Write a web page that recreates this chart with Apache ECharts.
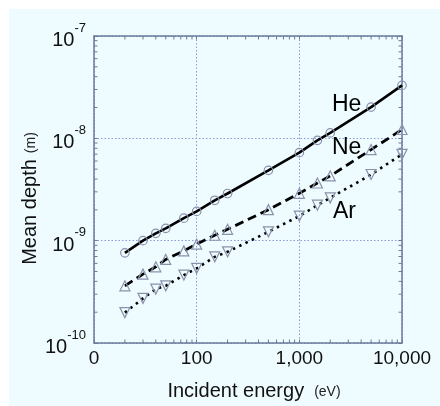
<!DOCTYPE html>
<html>
<head>
<meta charset="utf-8">
<script src="https://cdn.jsdelivr.net/npm/echarts@6/dist/echarts.min.js"></script>
<style>
  html, body { margin: 0; padding: 0; background: #ffffff; }
  #wrap { position: relative; width: 440px; height: 406px; background: #ffffff; }
  #panel { position: absolute; left: 9px; top: 9px; right: 0; bottom: 0; background: #effcff; }
  #chart { position: absolute; left: 0; top: 0; width: 440px; height: 406px; }
</style>
</head>
<body>
<div id="wrap"><div id="panel"></div><div id="chart"></div></div>
<script>
// Incident energy (eV)
const energies = [20, 30, 40, 50, 75, 100, 150, 200, 500, 1000, 1500, 2000, 5000, 10000];
// Mean depth (m) per projectile
const depthHe = [7.6e-10, 1.0e-9, 1.18e-9, 1.32e-9, 1.66e-9, 1.93e-9, 2.48e-9, 2.89e-9, 4.87e-9, 7.25e-9, 9.56e-9, 1.13e-8, 2.02e-8, 3.29e-8];
const depthNe = [3.62e-10, 4.71e-10, 5.55e-10, 6.56e-10, 7.95e-10, 9.25e-10, 1.13e-9, 1.29e-9, 2.01e-9, 2.9e-9, 3.66e-9, 4.29e-9, 7.76e-9, 1.22e-8];
const depthAr = [1.98e-10, 2.73e-10, 3.36e-10, 3.62e-10, 4.61e-10, 5.36e-10, 6.95e-10, 7.78e-10, 1.22e-9, 1.74e-9, 2.22e-9, 2.62e-9, 4.43e-9, 6.98e-9];

// Axis ranges and tick labels
const xRange = [10, 10000];
const yRange = [1e-10, 1e-7];
const xTickLabels = { 10: '0', 100: '100', 1000: '1,000', 10000: '10,000' };
const seriesNames = ['He', 'Ne', 'Ar'];

// Minor tick positions (2..9 within each decade)
function decadeSteps(lo, hi) {
  const out = [];
  for (let d = lo; d < hi; d *= 10) {
    for (let k = 2; k <= 9; k++) out.push(+(k * d).toPrecision(3));
  }
  return out;
}
const minorX = decadeSteps(xRange[0], xRange[1]);
const minorY = decadeSteps(yRange[0], yRange[1]);

const FONT = '"Liberation Sans", Arial, Helvetica, sans-serif';
const AXIS_COLOR = '#6c7a9a';
const GRID_COLOR = '#8a9ad6';
const MARK_COLOR = '#8a91ab';
const TICK_LEN = 3.5;

function pairs(xs, ys) { return xs.map((x, i) => [x, ys[i]]); }

function frameAxis(extra) {
  return Object.assign({
    type: 'log',
    logBase: 10,
    axisLine: { show: true, onZero: false, lineStyle: { color: AXIS_COLOR, width: 1.5 } },
    axisTick: { show: true, inside: true, length: TICK_LEN, lineStyle: { color: AXIS_COLOR, width: 1 } },
    splitLine: { show: false },
    axisLabel: { show: false }
  }, extra);
}

const chart = echarts.init(document.getElementById('chart'), null, { renderer: 'canvas' });

const option = {
  backgroundColor: 'transparent',
  animation: false,
  textStyle: { fontFamily: FONT },
  grid: { left: 94, right: 38, top: 36, bottom: 63, containLabel: false },
  xAxis: [
    frameAxis({
      position: 'bottom', min: xRange[0], max: xRange[1],
      splitLine: { show: true, lineStyle: { color: GRID_COLOR, type: [1.5, 2], width: 1 } },
      axisLabel: {
        show: true, margin: 6, color: '#111', fontSize: 19, fontFamily: FONT,
        formatter: v => xTickLabels[Math.round(v)] || ''
      },
      name: '{a|Incident energy}{g| }{b|(eV)}',
      nameLocation: 'middle', nameGap: 38, nameMoveOverlap: false,
      nameTextStyle: {
        color: '#111', fontFamily: FONT, padding: [0, 0, 0, 12],
        rich: {
          a: { fontSize: 20, fontFamily: FONT, color: '#111' },
          g: { fontSize: 8, width: 10 },
          b: { fontSize: 14, fontFamily: FONT, color: '#222', padding: [3, 0, 0, 0] }
        }
      }
    }),
    frameAxis({ position: 'top', min: xRange[0], max: xRange[1] })
  ],
  yAxis: [
    frameAxis({
      position: 'left', min: yRange[0], max: yRange[1],
      splitLine: { show: true, lineStyle: { color: GRID_COLOR, type: [1.5, 2], width: 1 } },
      axisLabel: {
        show: true, margin: 8, color: '#111', fontFamily: FONT,
        formatter: v => '{b|10}{s|' + Math.round(Math.log10(v)) + '}',
        rich: {
          b: { fontSize: 20, fontFamily: FONT, color: '#111', verticalAlign: 'bottom' },
          s: { fontSize: 13, fontFamily: FONT, color: '#111', verticalAlign: 'bottom', padding: [0, 0, 16, 0] }
        }
      },
      name: '{a|Mean depth}{g| }{b|(m)}',
      nameLocation: 'middle', nameGap: 54, nameRotate: 90, nameMoveOverlap: false,
      nameTextStyle: {
        color: '#111', fontFamily: FONT, padding: [0, 18, 0, 0],
        rich: {
          a: { fontSize: 20, fontFamily: FONT, color: '#111' },
          g: { fontSize: 8, width: 6 },
          b: { fontSize: 14, fontFamily: FONT, color: '#222', padding: [3, 0, 0, 0] }
        }
      }
    }),
    frameAxis({ position: 'right', min: yRange[0], max: yRange[1] })
  ],
  series: [
    {
      // minor ticks along bottom and top edges
      type: 'custom', xAxisIndex: 0, yAxisIndex: 0, silent: true, clip: false, z: 3,
      data: minorX.map(x => [x, yRange[0]]),
      renderItem: (params, api) => {
        const x = api.value(0);
        const b = api.coord([x, yRange[0]]);
        const t = api.coord([x, yRange[1]]);
        const style = { stroke: AXIS_COLOR, lineWidth: 1 };
        return { type: 'group', children: [
          { type: 'line', shape: { x1: b[0], y1: b[1], x2: b[0], y2: b[1] - TICK_LEN }, style },
          { type: 'line', shape: { x1: t[0], y1: t[1], x2: t[0], y2: t[1] + TICK_LEN }, style }
        ] };
      }
    },
    {
      // minor ticks along left and right edges
      type: 'custom', xAxisIndex: 0, yAxisIndex: 0, silent: true, clip: false, z: 3,
      data: minorY.map(y => [xRange[0], y]),
      renderItem: (params, api) => {
        const y = api.value(1);
        const l = api.coord([xRange[0], y]);
        const r = api.coord([xRange[1], y]);
        const style = { stroke: AXIS_COLOR, lineWidth: 1 };
        return { type: 'group', children: [
          { type: 'line', shape: { x1: l[0], y1: l[1], x2: l[0] + TICK_LEN, y2: l[1] }, style },
          { type: 'line', shape: { x1: r[0], y1: r[1], x2: r[0] - TICK_LEN, y2: r[1] }, style }
        ] };
      }
    },
    {
      name: seriesNames[0], type: 'line', data: pairs(energies, depthHe),
      symbol: 'circle', symbolSize: 8.5, showSymbol: true, z: 5,
      lineStyle: { color: '#000', width: 2.6, type: 'solid' },
      itemStyle: { color: 'rgba(0,0,0,0)', borderColor: MARK_COLOR, borderWidth: 1.2 }
    },
    {
      name: seriesNames[1], type: 'line', data: pairs(energies, depthNe),
      symbol: 'triangle', symbolSize: 10, showSymbol: true, z: 5,
      lineStyle: { color: '#000', width: 2.8, type: [9, 5] },
      itemStyle: { color: 'rgba(0,0,0,0)', borderColor: MARK_COLOR, borderWidth: 1.2 }
    },
    {
      name: seriesNames[2], type: 'line', data: pairs(energies, depthAr),
      symbol: 'triangle', symbolRotate: 180, symbolSize: 10, showSymbol: true, z: 5,
      lineStyle: { color: '#000', width: 2.6, type: [2.5, 4.5] },
      itemStyle: { color: 'rgba(0,0,0,0)', borderColor: MARK_COLOR, borderWidth: 1.2 }
    }
  ],
  graphic: [
    { type: 'text', left: 332, top: 93, z: 10, style: { text: seriesNames[0], font: '23px ' + FONT, fill: '#000' } },
    { type: 'text', left: 332, top: 136, z: 10, style: { text: seriesNames[1], font: '23px ' + FONT, fill: '#000' } },
    { type: 'text', left: 333, top: 200, z: 10, style: { text: seriesNames[2], font: '23px ' + FONT, fill: '#000' } }
  ]
};

chart.setOption(option);
</script>
</body>
</html>
